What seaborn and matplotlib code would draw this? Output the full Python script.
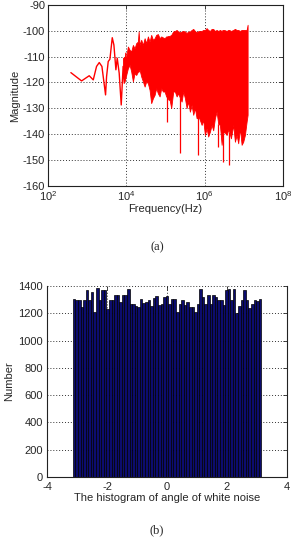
import numpy as np
import pandas as pd
import matplotlib
matplotlib.use("Agg")
import matplotlib.pyplot as plt
import seaborn as sns
from matplotlib.ticker import NullLocator, MultipleLocator

# ---------------- data: (a) spectrum ----------------
# sparse low-frequency trace (log10 of frequency, magnitude)
low_exp = [2.587, 2.860, 3.055, 3.158, 3.242, 3.311, 3.379, 3.472, 3.498, 3.540,
           3.583, 3.643, 3.685, 3.736, 3.770, 3.820, 3.872, 3.920, 3.950, 3.990]
low_mag = [-116.2, -119.4, -117.4, -119.0, -113.8, -112.3, -113.8, -124.8, -117.7, -111.9,
           -111.0, -102.7, -105.5, -115.1, -110.6, -116.4, -128.7, -113.8, -120.3, -108.7]

# dense region: upper / lower envelope of the trace
band_exp = [3.915, 3.958, 3.999, 4.042, 4.086, 4.127, 4.170, 4.213, 4.254, 4.298,
            4.316, 4.341, 4.382, 4.425, 4.469, 4.510, 4.553, 4.596, 4.637, 4.681,
            4.724, 4.765, 4.808, 4.852, 4.893, 4.936, 4.979, 5.020, 5.046, 5.081,
            5.107, 5.148, 5.199, 5.242, 5.286, 5.327, 5.370, 5.413, 5.454, 5.498,
            5.541, 5.582, 5.625, 5.669, 5.710, 5.753, 5.796, 5.822, 5.863, 5.924,
            5.965, 6.008, 6.052, 6.092, 6.136, 6.179, 6.220, 6.263, 6.307, 6.348,
            6.391, 6.435, 6.460, 6.501, 6.562, 6.603, 6.629, 6.672, 6.731, 6.774,
            6.818, 6.858, 6.902, 6.945, 6.986, 7.029, 7.073, 7.098]
band_hi = [-110.6, -110.0, -110.0, -106.1, -107.4, -108.0, -105.5, -106.8, -104.8, -104.2,
           -100.3, -105.5, -103.5, -105.5, -102.9, -104.8, -102.2, -104.2, -101.6, -103.5,
           -102.9, -101.6, -101.3, -102.9, -102.2, -102.6, -102.9, -102.2, -102.2, -102.0,
           -102.0, -101.6, -100.3, -100.1, -99.7, -100.3, -100.6, -100.3, -100.1, -100.3,
           -100.9, -100.3, -100.3, -99.7, -99.3, -100.1, -100.6, -100.3, -100.1, -100.1,
           -99.7, -99.7, -99.0, -99.7, -100.1, -99.3, -99.3, -100.1, -99.7, -100.1,
           -99.7, -100.1, -99.7, -99.7, -100.1, -99.7, -99.7, -100.1, -99.7, -99.3,
           -99.7, -99.7, -100.1, -99.7, -99.7, -99.7, -99.7, -97.7]
band_lo = [-117.1, -119.6, -117.1, -114.5, -113.2, -115.8, -119.6, -116.4, -117.1, -115.8,
           -115.8, -115.1, -117.7, -119.6, -121.6, -119.6, -120.3, -122.9, -128.0, -126.1,
           -124.8, -122.2, -124.2, -125.4, -122.2, -123.5, -123.5, -125.4, -125.8, -126.7,
           -126.7, -129.9, -123.5, -123.5, -125.4, -124.2, -126.0, -127.4, -123.5, -126.1,
           -129.9, -127.4, -131.3, -128.7, -132.5, -129.9, -133.8, -133.8, -133.8, -136.4,
           -134.5, -140.3, -137.7, -140.9, -139.0, -136.4, -138.5, -133.8, -131.3, -136.0,
           -136.4, -144.1, -140.0, -139.0, -140.3, -138.3, -139.0, -141.6, -136.4, -142.9,
           -140.3, -143.5, -137.7, -144.1, -142.9, -140.3, -135.1, -132.5]

# deep downward spikes
spike_exp = [5.046, 5.370, 5.822, 6.348, 6.460, 6.629]
spike_low = [-135.1, -147.1, -148.0, -144.8, -150.6, -151.9]
spike_top = [-125.0, -126.0, -133.0, -136.0, -140.0, -139.0]

# ---------------- data: (b) histogram ----------------
hist_counts = [1309, 1297, 1297, 1248, 1297, 1375, 1297, 1358, 1211, 1390,
               1297, 1375, 1375, 1236, 1302, 1302, 1334, 1334, 1285, 1334,
               1334, 1383, 1273, 1273, 1253, 1248, 1309, 1277, 1285, 1297,
               1253, 1317, 1326, 1265, 1268, 1321, 1329, 1273, 1309, 1309,
               1211, 1268, 1297, 1260, 1285, 1248, 1248, 1211, 1273, 1383,
               1321, 1273, 1334, 1268, 1334, 1321, 1297, 1297, 1260, 1370,
               1383, 1297, 1383, 1204, 1253, 1297, 1370, 1297, 1243, 1273,
               1297, 1290, 1307]
hist_range = (-np.pi, np.pi)

# ---------------- style ----------------
sns.set_style("white")
plt.rcParams["font.family"] = ["Liberation Sans", "DejaVu Sans"]
plt.rcParams["axes.unicode_minus"] = False

fig = plt.figure(figsize=(2.92, 5.39), dpi=100)
ax1 = fig.add_axes([0.164, 0.655, 0.805, 0.336])
ax2 = fig.add_axes([0.161, 0.115, 0.822, 0.354])

grid_kw = dict(color="#333333", linestyle=(0, (1, 2)), linewidth=0.7)

# ---- (a) ----
ax1.set_xscale("log")
df_low = pd.DataFrame({"f": 10 ** np.array(low_exp), "m": low_mag})
sns.lineplot(data=df_low, x="f", y="m", ax=ax1, color="red", lw=1.0,
             estimator=None, sort=False)
bf = 10 ** np.array(band_exp)
ax1.fill_between(bf, band_lo, band_hi, color="red", lw=0.6, edgecolor="red")
ax1.vlines(10 ** np.array(spike_exp), spike_low, spike_top, color="red", lw=0.9)
ax1.set_xlim(1e2, 1e8)
ax1.set_ylim(-160, -90)
ax1.set_xticks([1e2, 1e4, 1e6, 1e8])
ax1.xaxis.set_minor_locator(NullLocator())
ax1.yaxis.set_major_locator(MultipleLocator(10))
ax1.set_xlabel("Frequency(Hz)", fontsize=8, labelpad=1)
ax1.set_ylabel("Magnitude", fontsize=8, labelpad=2)

# ---- (b) ----
nb = len(hist_counts)
width = (hist_range[1] - hist_range[0]) / nb
centers = [hist_range[0] + (i + 0.5) * width for i in range(nb)]
df_h = pd.DataFrame({"angle": centers, "count": hist_counts})
sns.histplot(data=df_h, x="angle", weights="count", bins=nb, binrange=hist_range,
             ax=ax2, color="#0c0c6e", edgecolor="black", linewidth=0.5, alpha=1)
ax2.set_xlim(-4, 4)
ax2.set_ylim(0, 1400)
ax2.xaxis.set_major_locator(MultipleLocator(2))
ax2.yaxis.set_major_locator(MultipleLocator(200))
ax2.set_xlabel("The histogram of angle of white noise", fontsize=8, labelpad=1)
ax2.set_ylabel("Number", fontsize=8, labelpad=3)
ax2.spines["top"].set_visible(False)

for ax in (ax1, ax2):
    ax.set_axisbelow(True)
    ax.grid(True, **grid_kw)
    ax.tick_params(direction="in", length=3, width=0.6, labelsize=8, pad=2,
                   top=True, right=True)
    for s in ax.spines.values():
        s.set_color("#222222")
        s.set_linewidth(0.8)
ax2.tick_params(axis="x", pad=3.5)
ax2.tick_params(axis="y", pad=3)

fig.text(157 / 292, 1 - 247 / 539, "(a)", ha="center", va="center",
         family=["Liberation Serif", "DejaVu Serif"], fontsize=9)
fig.text(157 / 292, 1 - 530 / 539, "(b)", ha="center", va="center",
         family=["Liberation Serif", "DejaVu Serif"], fontsize=9)

fig.savefig("out.png", dpi=100)
